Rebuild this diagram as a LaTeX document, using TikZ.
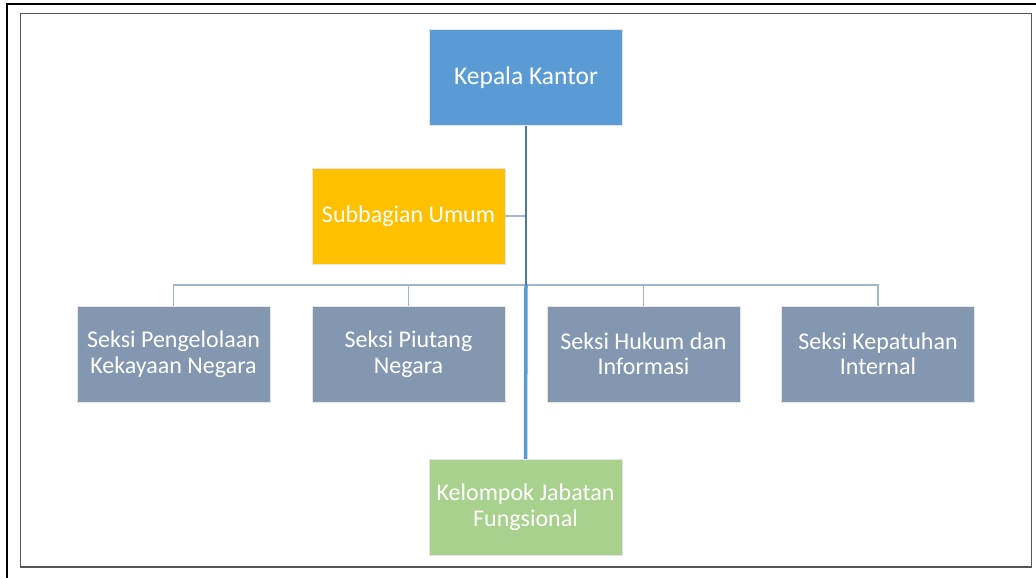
\documentclass[tikz,border=0pt]{standalone}
\usepackage{fontspec}
\setmainfont{Carlito}
\usepackage{xcolor}
\usetikzlibrary{positioning, calc}

\definecolor{headblue}{HTML}{5B9BD5}
\definecolor{staffgold}{HTML}{FFC000}
\definecolor{sectgray}{HTML}{8497B0}
\definecolor{funcgreen}{HTML}{A9D18E}
\definecolor{trunkblue}{HTML}{4A7AAA}
\definecolor{buslight}{HTML}{9FB6CF}
\definecolor{framegray}{HTML}{555555}

\begin{document}
\begin{tikzpicture}[
    x=1pt, y=-1pt,
    unit/.style={draw=white!90!black, line width=0.5pt, rectangle, minimum width=193pt, minimum height=96pt,
      text=white, align=center, font=\fontsize{24}{25.5}\selectfont, inner sep=0pt},
    lnk/.style={draw=buslight, line width=1.4pt},
    trunk/.style={draw=trunkblue, line width=2pt}
  ]
  \useasboundingbox (0,0) rectangle (1036,578);
  % Frames
  \draw[line width=2pt, black] (7,578) -- (7,4) -- (1036,4);
  \draw[line width=1.3pt, framegray] (20.5,13.5) rectangle (1031.5,567);
  % Head and staff
  \node[unit, fill=headblue, font=\fontsize{25.5}{27}\selectfont] (kepala) at (526,77.5) {Kepala Kantor};
  \node[unit, fill=staffgold] (subbag) at (408.5,216) {Subbagian Umum};
  % Sections
  \node[unit, fill=sectgray] (s1) at (173.5,354) {Seksi Pengelolaan\\Kekayaan Negara};
  \node[unit, fill=sectgray] (s2) at (408.5,354) {Seksi Piutang\\Negara};
  \node[unit, fill=sectgray] (s3) at (643.5,354) {Seksi Hukum dan\\Informasi};
  \node[unit, fill=sectgray] (s4) at (878,354) {Seksi Kepatuhan\\Internal};
  % Functional group
  \node[unit, fill=funcgreen] (kjf) at (525.5,507) {Kelompok Jabatan\\Fungsional};
  % Connectors
  \coordinate (bus) at (526,285);
  \draw[lnk] (s1.north) |- (bus) -| (s4.north);
  \draw[lnk] (s2.north) -- (s2.north |- bus);
  \draw[lnk] (s3.north) -- (s3.north |- bus);
  \draw[lnk, line width=2pt] (subbag.east) -- (subbag.east -| kepala.south);
  \draw[trunk] (kepala.south) -- (bus);
  \draw[draw=headblue, line width=3.5pt] (bus) -- (kjf.north);
\end{tikzpicture}
\end{document}
